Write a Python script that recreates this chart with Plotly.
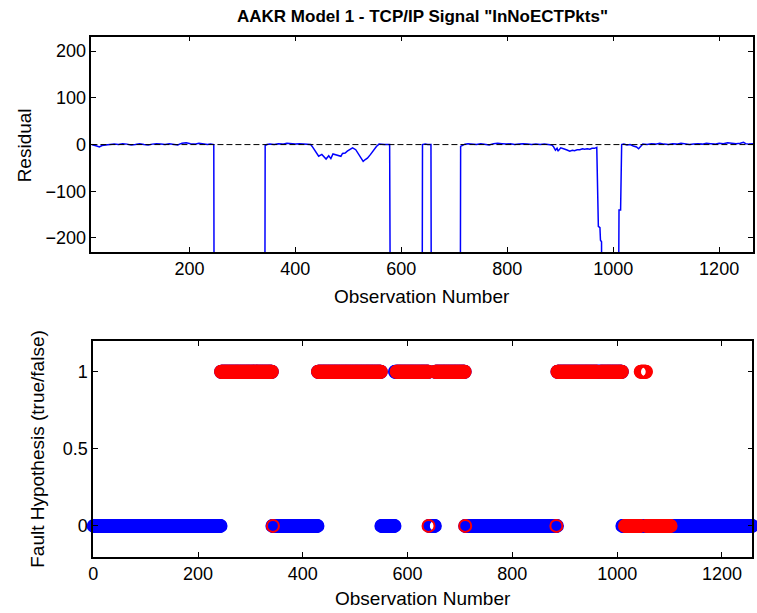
import plotly.graph_objects as go

# ---------------------------------------------------------------------------
# Residual of the AAKR model for signal InNoECTPkts (observation, residual).
# Values of -600 are saturated fault excursions that fall below the axis floor.
# ---------------------------------------------------------------------------
res_obs = [
    15, 20, 25, 30, 35, 42, 50, 58, 66, 74, 82, 90, 98, 106, 114, 122, 130, 138,
    146, 154, 162, 170, 178, 186, 194, 202, 210, 218, 226, 234, 240, 246,
    247, 300, 342,
    343, 346, 352, 360, 368, 376, 384, 392, 400, 408, 416, 424, 429,
    433, 439, 444, 450, 458, 463, 467, 471, 476, 480, 486, 489, 494, 498, 503,
    508, 514, 520, 524, 528, 532, 536, 542, 548, 553, 558, 563, 568, 573, 578,
    580, 610, 639,
    640, 645, 650, 656,
    657, 690, 711,
    712, 716, 720, 726, 734, 742, 750, 758, 766, 774, 782, 790, 798, 806, 814,
    822, 830, 838, 846, 854, 862, 870, 878, 884,
    887, 891, 894, 896, 901, 905, 909, 914, 918, 923, 927, 932, 937, 942, 946,
    951, 956, 960, 965, 969,
    972, 975, 976, 978, 979, 995, 1009,
    1011, 1014,
    1016, 1020, 1026, 1032, 1038, 1044, 1048, 1052, 1056, 1064, 1072, 1080,
    1088, 1096, 1104, 1112, 1120, 1128, 1136, 1144, 1152, 1160, 1168, 1176,
    1184, 1192, 1200, 1208, 1216, 1224, 1232, 1240, 1246, 1250, 1256, 1264,
]
res_val = [
    0, -1, -3, -5, -2, -1, 0, 1, 0, 2, 1, -1, 0, 2, 0, -1, 1, 2,
    1, 0, 2, 1, -1, 3, 4, 2, 1, 3, 2, 0, 1, 0,
    -600, -600, -600,
    -2, 0, 1, 0, 2, 1, 3, 2, 1, 2, 1, 0, 0,
    -6, -15, -25, -21, -31, -24, -30, -20, -22, -24, -25, -19, -18, -14, -10,
    -7, -11, -21, -28, -36, -32, -29, -21, -11, -4, 1, 0, 0, 0, 0,
    -600, -600, -600,
    0, 1, 0, 0,
    -600, -600, -600,
    -4, -2, 1, 2, 1, 0, 2, 1, -1, 2, 3, 2, 1, 2, 0,
    1, 2, 1, 0, 1, 0, 1, 0, -1,
    -4, -12, -8, -14, -7, -8, -10, -12, -14, -12, -13, -11, -11, -9, -10,
    -9, -10, -8, -8, -6,
    -175, -178, -205, -208, -600, -600, -600,
    -140, -140,
    0, 1, -1, 0, -3, -5, -9, -3, 1, 0, 2, 1,
    3, 1, 0, 2, 1, 3, 2, 0, 1, 2, 1, 3,
    2, 1, 3, 2, 4, 3, 2, 3, 5, 2, 1, 2,
]

# Fault hypothesis runs: (first observation, last observation, state)
blue_runs = [
    (1, 243, 0), (244, 341, 1), (342, 428, 0), (429, 549, 1), (550, 575, 0),
    (576, 640, 1), (641, 652, 0), (653, 709, 1), (710, 885, 0), (886, 1009, 1),
    (1010, 1258, 0),
]
red_runs = [
    (244, 341, 1), (343, 343, 0), (429, 549, 1), (579, 640, 1), (640, 640, 0),
    (653, 709, 1), (710, 710, 0), (884, 884, 0), (886, 962, 1), (968, 1009, 1),
    (1015, 1044, 0), (1045, 1055, 1), (1056, 1102, 0),
]

top_xticks = [200, 400, 600, 800, 1000, 1200]
top_yticks = [-200, -100, 0, 100, 200]
bot_xticks = [0, 200, 400, 600, 800, 1000, 1200]
bot_yticks = [0, 0.5, 1]
bot_yticklabels = ["0", "0.5", "1"]


def expand(runs):
    xs, ys = [], []
    for first, last, state in runs:
        for o in range(first, last + 1):
            xs.append(o)
            ys.append(state)
    return xs, ys


blue_x, blue_y = expand(blue_runs)
red_x, red_y = expand(red_runs)

W, H = 757, 613


def px_x(p):
    return p / W


def px_y(p):
    return 1 - p / H


FONT = "Liberation Sans, Arial, Helvetica, sans-serif"

fig = go.Figure()

fig.add_trace(go.Scatter(
    x=res_obs, y=res_val, mode="lines",
    line=dict(color="#0000ff", width=1.5),
    xaxis="x", yaxis="y", showlegend=False,
))
fig.add_trace(go.Scatter(
    x=[res_obs[0], res_obs[-1]], y=[0, 0], mode="lines",
    line=dict(color="black", width=1, dash="6px,3px"),
    xaxis="x", yaxis="y", showlegend=False,
))
fig.add_trace(go.Scatter(
    x=blue_x, y=blue_y, mode="markers", cliponaxis=False,
    marker=dict(symbol="circle-open", size=12, color="#0000ff",
                line=dict(width=2, color="#0000ff")),
    xaxis="x2", yaxis="y2", showlegend=False,
))
fig.add_trace(go.Scatter(
    x=red_x, y=red_y, mode="markers", cliponaxis=False,
    marker=dict(symbol="circle-open", size=12, color="#ff0000",
                line=dict(width=2, color="#ff0000")),
    xaxis="x2", yaxis="y2", showlegend=False,
))

axis_common = dict(
    showline=True, linecolor="black", linewidth=1.5, mirror="ticks",
    ticks="inside", ticklen=5, tickwidth=1, tickcolor="black",
    showgrid=False, zeroline=False,
    tickfont=dict(family=FONT, size=18, color="black"),
)

fig.update_layout(
    width=W, height=H,
    margin=dict(l=0, r=0, t=0, b=0),
    paper_bgcolor="white", plot_bgcolor="white",
    xaxis=dict(domain=[px_x(87), px_x(753)], range=[15, 1264],
               tickvals=top_xticks, anchor="y", **axis_common),
    yaxis=dict(domain=[px_y(252), px_y(36.7)], range=[-230, 231],
               tickvals=top_yticks, anchor="x", **axis_common),
    xaxis2=dict(domain=[px_x(88.8), px_x(752.3)], range=[0, 1258],
                tickvals=bot_xticks, anchor="y2", **axis_common),
    yaxis2=dict(domain=[px_y(556.7), px_y(341)], range=[-0.2, 1.2],
                tickvals=bot_yticks, ticktext=bot_yticklabels, anchor="x2",
                **axis_common),
)

annotations = [
    dict(text='<b>AAKR Model 1 - TCP/IP Signal "InNoECTPkts"</b>',
         x=px_x(420), y=px_y(17), font=dict(family=FONT, size=17)),
    dict(text="Observation Number", x=px_x(420), y=px_y(296),
         font=dict(family=FONT, size=19)),
    dict(text="Observation Number", x=px_x(420.5), y=px_y(598),
         font=dict(family=FONT, size=19)),
    dict(text="Residual", x=px_x(20.5), y=px_y(145), textangle=-90,
         font=dict(family=FONT, size=19)),
    dict(text="Fault Hypothesis (true/false)", x=px_x(32), y=px_y(449),
         textangle=-90, font=dict(family=FONT, size=19)),
]
for a in annotations:
    a.update(xref="paper", yref="paper", showarrow=False,
             xanchor="center", yanchor="middle")
    a["font"]["color"] = "black"
fig.update_layout(annotations=annotations)

fig.write_html("out.html")
